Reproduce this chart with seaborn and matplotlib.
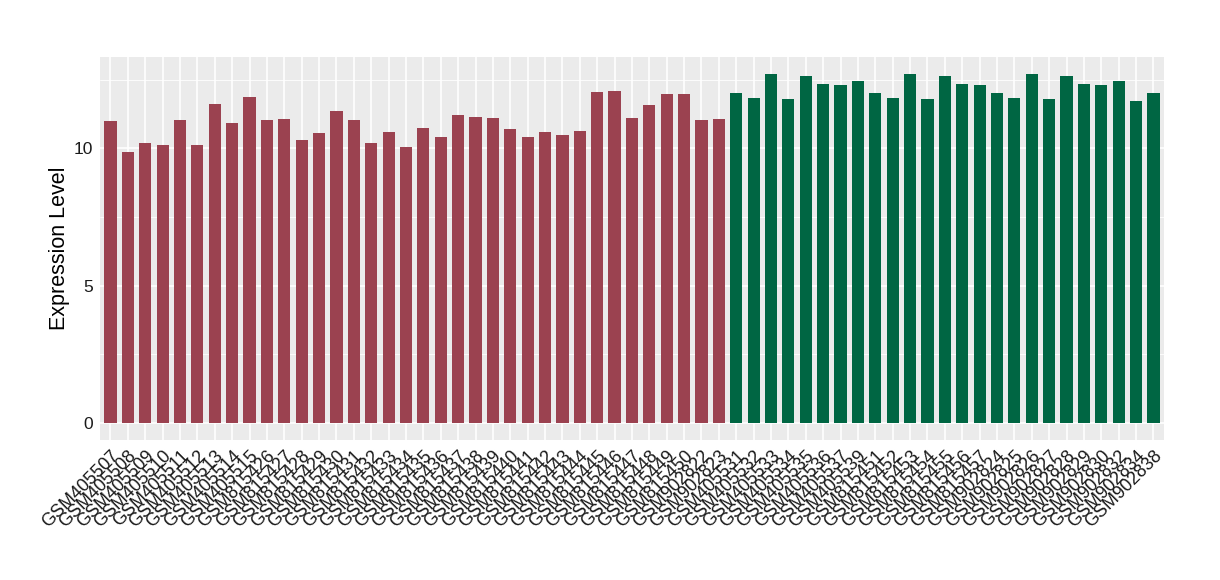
import numpy as np
import pandas as pd
import seaborn as sns
import matplotlib.pyplot as plt
from matplotlib.ticker import MultipleLocator

# 样本名称（两组）
group_a_samples = [
    "GSM405507", "GSM405508", "GSM405509", "GSM405510", "GSM405511", "GSM405512",
    "GSM405513", "GSM405514", "GSM405515", "GSM815426", "GSM815427", "GSM815428",
    "GSM815429", "GSM815430", "GSM815431", "GSM815432", "GSM815433", "GSM815434",
    "GSM815435", "GSM815436", "GSM815437", "GSM815438", "GSM815439", "GSM815440",
    "GSM815441", "GSM815442", "GSM815443", "GSM815444", "GSM815445", "GSM815446",
    "GSM815447", "GSM815448", "GSM815449", "GSM815450", "GSM902822", "GSM902823",
]
group_b_samples = [
    "GSM405531", "GSM405532", "GSM405533", "GSM405534", "GSM405535", "GSM405536",
    "GSM405537", "GSM405539", "GSM815451", "GSM815452", "GSM815453", "GSM815454",
    "GSM815455", "GSM815456", "GSM815457", "GSM902824", "GSM902825", "GSM902826",
    "GSM902827", "GSM902828", "GSM902829", "GSM902830", "GSM902832", "GSM902834",
    "GSM902838",
]

# 表达量
group_a_values = [
    10.98, 9.85, 10.18, 10.11, 11.02, 10.11, 11.60, 10.91, 11.85, 11.02, 11.05, 10.29,
    10.55, 11.35, 11.02, 10.18, 10.58, 10.04, 10.73, 10.40, 11.20, 11.13, 11.09, 10.69,
    10.40, 10.58, 10.47, 10.62, 12.04, 12.07, 11.09, 11.56, 11.96, 11.96, 11.02, 11.05,
]
group_b_values = [
    12.00, 11.82, 12.69, 11.78, 12.62, 12.33, 12.29, 12.44, 12.00, 11.82, 12.69, 11.78,
    12.62, 12.33, 12.29, 12.00, 11.82, 12.69, 11.78, 12.62, 12.33, 12.29, 12.44, 11.71,
    12.00,
]

COLOR_A = "#9B4250"
COLOR_B = "#006643"

df = pd.DataFrame({
    "sample": group_a_samples + group_b_samples,
    "value": group_a_values + group_b_values,
    "group": ["A"] * len(group_a_samples) + ["B"] * len(group_b_samples),
})

sns.set_theme(style="darkgrid", rc={
    "axes.facecolor": "#EBEBEB",
    "grid.color": "white",
    "axes.edgecolor": "#EBEBEB",
})
plt.rcParams["font.family"] = ["Liberation Sans", "DejaVu Sans"]

fig = plt.figure(figsize=(12.2, 5.8), dpi=100)
ax = fig.add_axes([0.082, 0.241, 0.872, 0.661])

sns.barplot(
    data=df, x="sample", y="value", hue="group",
    palette={"A": COLOR_A, "B": COLOR_B},
    dodge=False, width=0.7, legend=False, saturation=1,
    linewidth=0, edgecolor="none", ax=ax,
)

n = len(df)
ax.set_xlim(-0.6, n - 1 + 0.6)
ax.set_ylim(-0.63, 13.33)
ax.yaxis.set_major_locator(MultipleLocator(5))
ax.yaxis.set_minor_locator(MultipleLocator(2.5))
ax.grid(which="major", color="white", linewidth=1.2)
ax.grid(which="minor", axis="y", color="white", linewidth=0.6)
ax.set_axisbelow(True)
for s in ax.spines.values():
    s.set_visible(False)

ax.set_xlabel("")
ax.set_ylabel("Expression Level", fontsize=15.5, color="black", labelpad=3)
ax.tick_params(axis="both", which="major", length=3, color="#333333",
               labelsize=12.5, labelcolor="#1a1a1a", width=0.8, pad=2)
ax.tick_params(axis="y", which="minor", length=0)
plt.setp(ax.get_xticklabels(), rotation=45, ha="right", rotation_mode="anchor",
         fontsize=13)

fig.savefig("out.png", dpi=100)
